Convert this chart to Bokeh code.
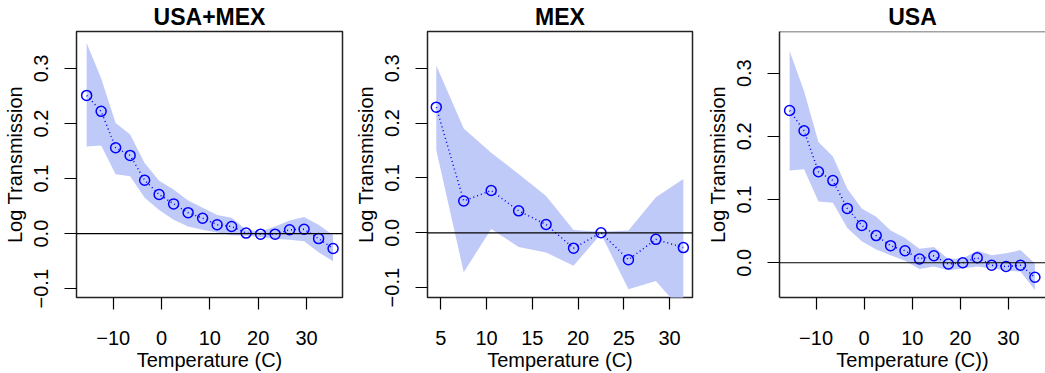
from bokeh.plotting import figure
from bokeh.layouts import row
from bokeh.models import Range1d, FixedTicker, Span, ColumnDataSource
from bokeh.embed import file_html
from bokeh.resources import INLINE

# ---------------- data ----------------
titles = ["USA+MEX", "MEX", "USA"]
xlabels = ["Temperature (C)", "Temperature (C)", "Temperature (C))"]
ylabel = "Log Transmission"

temp_all = [-15.5, -12.5, -9.5, -6.5, -3.5, -0.5, 2.5, 5.5, 8.5, 11.5,
            14.5, 17.5, 20.5, 23.5, 26.5, 29.5, 32.5, 35.5]
temp_mex = [4.5, 7.5, 10.5, 13.5, 16.5, 19.5, 22.5, 25.5, 28.5, 31.5]

est_all = [0.251, 0.222, 0.156, 0.142, 0.097, 0.071, 0.054, 0.038, 0.028, 0.016,
           0.013, 0.001, -0.001, -0.001, 0.007, 0.008, -0.009, -0.027]
hi_all = [0.346, 0.282, 0.201, 0.180, 0.128, 0.096, 0.080, 0.060, 0.047, 0.034,
          0.029, 0.007, 0.004, 0.013, 0.024, 0.030, 0.016, -0.003]
lo_all = [0.158, 0.160, 0.108, 0.104, 0.065, 0.043, 0.025, 0.013, 0.007, 0.002,
          -0.003, -0.004, -0.006, -0.010, -0.011, -0.014, -0.034, -0.050]

est_mex = [0.229, 0.058, 0.077, 0.040, 0.015, -0.028, 0.000, -0.049, -0.012, -0.027]
hi_mex = [0.305, 0.190, 0.146, 0.107, 0.067, 0.005, 0.002, 0.004, 0.065, 0.098]
lo_mex = [0.151, -0.072, 0.007, -0.026, -0.036, -0.060, -0.002, -0.103, -0.088, -0.145]

est_usa = [0.241, 0.209, 0.144, 0.130, 0.086, 0.059, 0.043, 0.027, 0.019, 0.006,
           0.011, -0.002, 0.000, 0.008, -0.004, -0.006, -0.004, -0.023]
hi_usa = [0.335, 0.272, 0.191, 0.168, 0.117, 0.086, 0.073, 0.051, 0.039, 0.022,
          0.025, 0.006, 0.007, 0.019, 0.012, 0.015, 0.020, -0.001]
lo_usa = [0.146, 0.148, 0.097, 0.095, 0.055, 0.034, 0.021, 0.012, 0.003, -0.010,
          -0.006, -0.012, -0.009, -0.006, -0.009, -0.012, -0.014, -0.043]

xticks_all = [-10, 0, 10, 20, 30]
xticks_mex = [5, 10, 15, 20, 25, 30]
yticks_full = [-0.1, 0.0, 0.1, 0.2, 0.3]
yticks_usa = [0.0, 0.1, 0.2, 0.3]

FONT = "Liberation Sans"
BAND = "#C0CAF8"
BLUE = "#0000FF"


def fmt_num(v, dec):
    s = f"{abs(v):.{dec}f}"
    return ("\u2212" + s) if v < 0 else s


def panel(title, xlabel, xs, est, lo, hi, xr, yr, xticks, yticks,
          width, bl, br, right_open=False):
    p = figure(width=width, height=373, output_backend="svg", toolbar_location=None,
               x_range=Range1d(*xr), y_range=Range1d(*yr),
               min_border_left=bl, min_border_right=br,
               min_border_top=0, min_border_bottom=75)
    p.background_fill_color = "white"
    p.border_fill_color = "white"
    p.grid.visible = False

    src = ColumnDataSource(dict(x=xs, y=est, lo=lo, hi=hi))
    p.varea(x="x", y1="lo", y2="hi", source=src, fill_color=BAND, fill_alpha=1.0)
    p.add_layout(Span(location=0, dimension="width", line_color="black", line_width=1.2))
    p.line(x="x", y="y", source=src, line_color=BLUE, line_width=1.5, line_dash="1 3")
    p.scatter(x="x", y="y", source=src, size=10, marker="circle",
              fill_color=None, line_color=BLUE, line_width=1.5)

    # title
    p.title.text = title
    p.title.text_font = FONT
    p.title.text_font_size = "23px"
    p.title.text_font_style = "bold"
    p.title.align = "center"
    p.title.text_color = "black"
    p.title.standoff = 3

    for ax in (p.xaxis[0], p.yaxis[0]):
        ax.major_label_text_font = FONT
        ax.major_label_text_font_size = "20px"
        ax.major_label_text_color = "black"
        ax.axis_label_text_font = FONT
        ax.axis_label_text_font_size = "20px"
        ax.axis_label_text_font_style = "normal"
        ax.axis_label_text_color = "black"
        ax.major_tick_out = 12
        ax.major_tick_in = 0
        ax.minor_tick_line_color = None
        ax.major_tick_line_color = "black"
        ax.major_tick_line_width = 1.2

    p.xaxis.ticker = FixedTicker(ticks=xticks)
    p.xaxis.major_label_overrides = {t: fmt_num(t, 0) for t in xticks}
    p.xaxis.axis_label = xlabel
    p.xaxis.major_label_standoff = 21
    p.xaxis.axis_label_standoff = 1

    p.yaxis.ticker = FixedTicker(ticks=yticks)
    p.yaxis.major_label_overrides = {t: fmt_num(t, 1) for t in yticks}
    p.yaxis.axis_label = ylabel
    p.yaxis.major_label_orientation = "vertical"
    p.yaxis.major_label_standoff = 16
    p.yaxis.axis_label_standoff = 6

    if right_open:
        p.outline_line_color = None
        p.xaxis.axis_line_color = "#222222"
        p.xaxis.axis_line_width = 1.5
        p.yaxis.axis_line_color = "#222222"
        p.yaxis.axis_line_width = 1.5
        p.add_layout(Span(location=yr[1], dimension="width",
                          line_color="#444444", line_width=1.5))
    else:
        p.outline_line_color = "#222222"
        p.outline_line_width = 1.5
        p.outline_line_alpha = 1.0
        p.xaxis.axis_line_color = None
        p.yaxis.axis_line_color = None
    return p


p1 = panel(titles[0], xlabels[0], temp_all, est_all, lo_all, hi_all,
           (-17.6, 37.45), (-0.116, 0.367), xticks_all, yticks_full, 350, 76, 8)
p2 = panel(titles[1], xlabels[1], temp_mex, est_mex, lo_mex, hi_mex,
           (3.54, 32.5), (-0.118, 0.367), xticks_mex, yticks_full, 350, 77, 8)
p3 = panel(titles[2], xlabels[2], temp_all, est_usa, lo_usa, hi_usa,
           (-17.6, 37.7), (-0.055, 0.366), xticks_all, yticks_usa, 345, 79, 0,
           right_open=True)

layout = row(p1, p2, p3, spacing=0)
open("out.html", "w").write(file_html(layout, INLINE))
